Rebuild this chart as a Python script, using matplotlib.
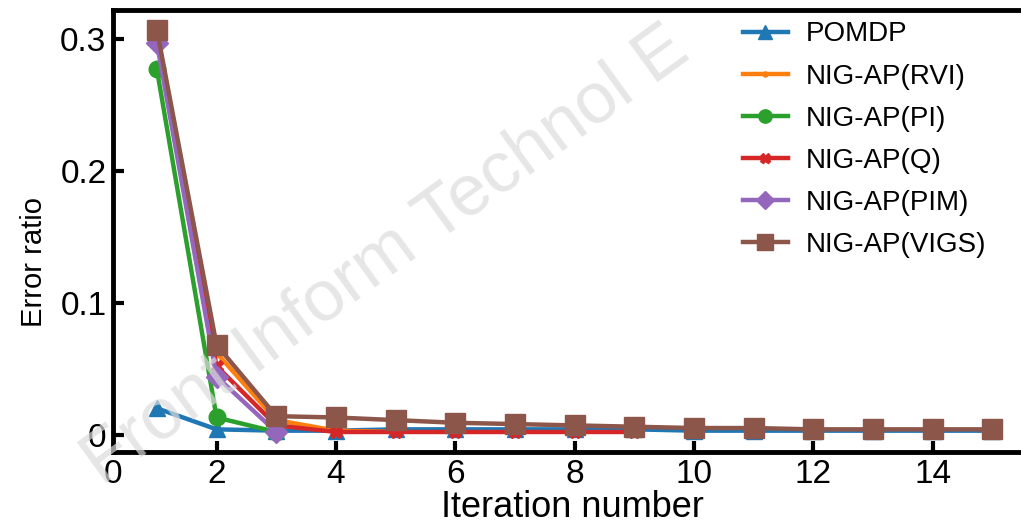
import matplotlib
matplotlib.use("Agg")
import matplotlib.pyplot as plt

plt.rcParams['font.family'] = ['Liberation Sans', 'DejaVu Sans']

# values
labels = ['POMDP', 'NIG-AP(RVI)', 'NIG-AP(PI)', 'NIG-AP(Q)', 'NIG-AP(PIM)', 'NIG-AP(VIGS)']
pomdp = [0.020, 0.004, 0.003, 0.003, 0.004, 0.004, 0.004, 0.004, 0.004,
         0.003, 0.003, 0.003, 0.003, 0.003, 0.003]
rvi = [0.305, 0.062, 0.011, 0.003, 0.002]
pi = [0.277, 0.013, 0.002]
q = [0.300, 0.052, 0.007, 0.002, 0.002, 0.002, 0.002, 0.002, 0.002]
pim = [0.297, 0.044, 0.002]
vigs = [0.307, 0.068, 0.014, 0.013, 0.011, 0.009, 0.008, 0.007, 0.006,
        0.005, 0.005, 0.004, 0.004, 0.004, 0.004]
series = [pomdp, rvi, pi, q, pim, vigs]

colors = ['#1f77b4', '#ff7f0e', '#2ca02c', '#d62728', '#9467bd', '#8c564b']
markers = ['^', '.', 'o', 'X', 'D', 's']
sizes = [12, 9, 12, 9, 11, 14]

x_ticks = [2, 4, 6, 8, 10, 12, 14]
y_ticks = [0, 0.1, 0.2, 0.3]

fig = plt.figure(figsize=(10.21, 5.29), dpi=100)
ax = fig.add_axes([0.111, 0.146, 0.9, 0.835])

for vals, lab, c, m, s in zip(series, labels, colors, markers, sizes):
    xs = list(range(1, len(vals) + 1))
    ax.plot(xs, vals, color=c, marker=m, markersize=s, linewidth=3.2, label=lab)

left = 0.27
ax.set_xlim(left, 15.67)
ax.set_ylim(-0.013, 0.322)
ax.set_xticks([left] + x_ticks)
ax.set_xticklabels(['0'] + [str(t) for t in x_ticks])
ax.set_yticks(y_ticks)
ax.set_yticklabels(['0', '0.1', '0.2', '0.3'])
ax.tick_params(direction='in', length=8, width=3, labelsize=24, pad=5)
ax.xaxis.get_major_ticks()[0].tick1line.set_visible(False)
for sp in ax.spines.values():
    sp.set_linewidth(3.5)

ax.set_xlabel('Iteration number', fontsize=26, labelpad=0)
ax.set_ylabel('Error ratio', fontsize=21)
ax.yaxis.set_label_coords(-0.071, 0.43)

ax.legend(loc='upper right', bbox_to_anchor=(0.968, 1.012), frameon=False,
          fontsize=20, handlelength=1.6, handletextpad=0.65, labelspacing=0.58,
          markerscale=0.8, borderaxespad=0.2)

# faint watermark
fig.text(0.07, 0.06, 'Front Inform Technol E', fontsize=52,
         color='#dcdcdc', rotation=36, ha='left', va='bottom', zorder=0, alpha=0.7)

fig.savefig('out.png', dpi=100)
